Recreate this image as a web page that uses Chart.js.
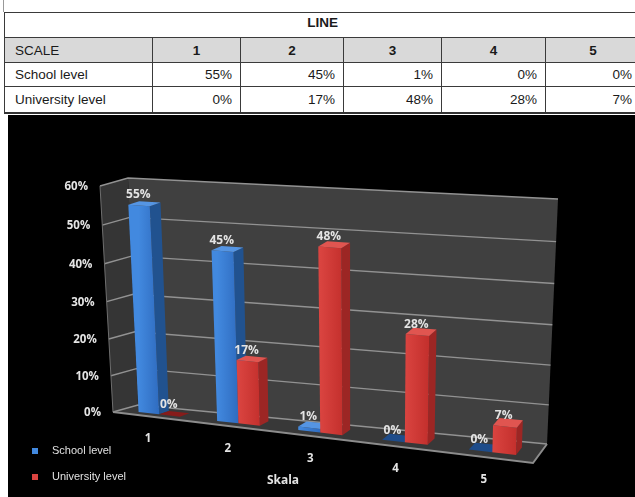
<!DOCTYPE html>
<html>
<head>
<meta charset="utf-8">
<script src="https://cdn.jsdelivr.net/npm/chart.js@4.4.1/dist/chart.umd.min.js"></script>
<style>
  body { margin: 0; width: 635px; height: 497px; background: #fff; position: relative; overflow: hidden; }
  #tick { position: absolute; left: 3px; top: 0; width: 1px; height: 12px; background: #999; }
  #tbl {
    position: absolute; left: 4px; top: 12px; width: 636px;
    border-collapse: collapse; table-layout: fixed;
    font-family: "Liberation Sans", Arial, sans-serif; font-size: 13.5px; color: #1a1a1a;
    border-bottom: 2px solid #333;
  }
  #tbl td { border: 1px solid #3a3a3a; padding: 0 8px 0 0; text-align: right; }
  #tbl td.lbl { text-align: left; padding-left: 10px; }
  #tbl tr.title td { text-align: center; font-weight: bold; height: 18px; padding: 0 0 6px 0; }
  #tbl tr.head td { background: #d9d9d9; font-weight: bold; text-align: center; height: 24px; padding: 0; }
  #tbl tr.head td.lbl { font-weight: normal; text-align: left; padding-left: 10px; }
  #tbl tr.r1 td { height: 23px; }
  #tbl tr.r2 td { height: 25px; }
  #panel { position: absolute; left: 8px; top: 115px; width: 627px; height: 382px; background: #000; }
</style>
</head>
<body>
<div id="tick"></div>
<table id="tbl"></table>
<div id="panel"><canvas id="chart" width="627" height="382"></canvas></div>
<script>
const categories = ['1', '2', '3', '4', '5'];
const schoolLevel = [55, 45, 1, 0, 0];
const universityLevel = [0, 17, 48, 28, 7];
const yTicks = [0, 10, 20, 30, 40, 50, 60];
const seriesNames = ['School level', 'University level'];
const tableTitle = 'LINE';
const scaleLabel = 'SCALE';
const axisTitle = 'Skala';

// --- table above the chart ---
function buildTable() {
  const tbl = document.getElementById('tbl');
  const widths = [148, 88, 103, 98, 104, 95];
  let html = '<colgroup>' + widths.map(w => `<col style="width:${w}px">`).join('') + '</colgroup>';
  html += `<tr class="title"><td colspan="6">${tableTitle}</td></tr>`;
  html += `<tr class="head"><td class="lbl">${scaleLabel}</td>` + categories.map(c => `<td>${c}</td>`).join('') + '</tr>';
  html += `<tr class="r1"><td class="lbl">${seriesNames[0]}</td>` + schoolLevel.map(v => `<td>${v}%</td>`).join('') + '</tr>';
  html += `<tr class="r2"><td class="lbl">${seriesNames[1]}</td>` + universityLevel.map(v => `<td>${v}%</td>`).join('') + '</tr>';
  tbl.innerHTML = html;
}
buildTable();

// --- perspective box: front plane (z=0) and back wall (z=1), corners BL, BR, TR, TL ---
const FRONT = [[105, 297], [525, 348], [533, 104], [92, 71]];
const BACK = [[130, 290], [539, 329], [550, 84], [120, 63]];

// unit square -> quad projective mapping
function squareToQuad(q) {
  const [x0, y0] = q[0], [x1, y1] = q[1], [x2, y2] = q[2], [x3, y3] = q[3];
  const dx1 = x1 - x2, dx2 = x3 - x2, dx3 = x0 - x1 + x2 - x3;
  const dy1 = y1 - y2, dy2 = y3 - y2, dy3 = y0 - y1 + y2 - y3;
  const den = dx1 * dy2 - dx2 * dy1;
  const g = (dx3 * dy2 - dx2 * dy3) / den;
  const h = (dx1 * dy3 - dx3 * dy1) / den;
  const a = x1 - x0 + g * x1, b = x3 - x0 + h * x3, c = x0;
  const d = y1 - y0 + g * y1, e = y3 - y0 + h * y3, f = y0;
  return (u, v) => {
    const w = g * u + h * v + 1;
    return [(a * u + b * v + c) / w, (d * u + e * v + f) / w];
  };
}
const frontMap = squareToQuad(FRONT);
const backMap = squareToQuad(BACK);

function P(u, v, z) {
  const f = frontMap(u, v), b = backMap(u, v);
  return [f[0] + (b[0] - f[0]) * z, f[1] + (b[1] - f[1]) * z];
}

function poly(ctx, pts, fill) {
  ctx.beginPath();
  ctx.moveTo(pts[0][0], pts[0][1]);
  for (let i = 1; i < pts.length; i++) ctx.lineTo(pts[i][0], pts[i][1]);
  ctx.closePath();
  ctx.fillStyle = fill;
  ctx.fill();
}

function line(ctx, pts, color, width) {
  ctx.beginPath();
  ctx.moveTo(pts[0][0], pts[0][1]);
  for (let i = 1; i < pts.length; i++) ctx.lineTo(pts[i][0], pts[i][1]);
  ctx.strokeStyle = color;
  ctx.lineWidth = width;
  ctx.stroke();
}

const faceColors = [
  { front: ['#4289df', '#2f6cc0'], side: '#21528f', top: '#5595e3', flat: '#1e4c8a' },
  { front: ['#da4440', '#c4302d'], side: '#9c2624', top: '#e05550', flat: '#861c1a' }
];
const BAR_Z0 = 0.3, BAR_Z1 = 0.7;

const box3d = {
  id: 'box3d',
  beforeDatasetsDraw(chart) {
    const ctx = chart.ctx;
    const area = chart.chartArea;
    const yScale = chart.scales.y, xScale = chart.scales.x;
    const toU = px => (px - area.left) / area.width;
    const toV = py => (area.bottom - py) / area.height;

    ctx.save();
    // walls and floor
    poly(ctx, [P(0, 0, 0), P(0, 1, 0), P(0, 1, 1), P(0, 0, 1)], '#353535');
    poly(ctx, [P(0, 0, 1), P(1, 0, 1), P(1, 1, 1), P(0, 1, 1)], '#404040');
    poly(ctx, [P(0, 0, 0), P(1, 0, 0), P(1, 0, 1), P(0, 0, 1)], '#383838');

    // gridlines on side wall and back wall
    yTicks.forEach(t => {
      const v = toV(yScale.getPixelForValue(t));
      line(ctx, [P(0, v, 0), P(0, v, 1), P(1, v, 1)], '#929292', 1.4);
    });
    line(ctx, [P(0, 0, 0), P(0, 1, 0)], '#6e6e6e', 1);
    // floor edge
    line(ctx, [P(0, 0, 0), P(1, 0, 0), P(1, 0, 1)], '#8c8c8c', 2);

    // bars, left to right
    const bars = [];
    categories.forEach((c, j) => {
      chart.data.datasets.forEach((ds, i) => {
        const el = chart.getDatasetMeta(i).data[j];
        bars.push({
          i, value: ds.data[j],
          u0: toU(el.x - el.width / 2), u1: toU(el.x + el.width / 2),
          v0: toV(el.base), v1: toV(el.y)
        });
      });
    });
    bars.forEach(b => {
      const col = faceColors[b.i];
      const z0 = BAR_Z0, z1 = BAR_Z1;
      if (b.v1 - b.v0 < 0.001) {
        poly(ctx, [P(b.u0, b.v1, z0), P(b.u1, b.v1, z0), P(b.u1, b.v1, z1), P(b.u0, b.v1, z1)], col.flat);
        return;
      }
      poly(ctx, [P(b.u1, b.v0, z0), P(b.u1, b.v0, z1), P(b.u1, b.v1, z1), P(b.u1, b.v1, z0)], col.side);
      const fl = P(b.u0, b.v0, z0), fr = P(b.u1, b.v0, z0);
      const grad = ctx.createLinearGradient(fl[0], 0, fr[0], 0);
      grad.addColorStop(0, col.front[0]);
      grad.addColorStop(1, col.front[1]);
      poly(ctx, [fl, fr, P(b.u1, b.v1, z0), P(b.u0, b.v1, z0)], grad);
      poly(ctx, [P(b.u0, b.v1, z0), P(b.u1, b.v1, z0), P(b.u1, b.v1, z1), P(b.u0, b.v1, z1)], col.top);
    });

    // value labels
    ctx.fillStyle = '#e4e4e4';
    ctx.font = 'bold 12px "Open Sans", sans-serif';
    ctx.textAlign = 'center';
    ctx.textBaseline = 'middle';
    bars.forEach(b => {
      const p = P((b.u0 + b.u1) / 2, b.v1, 0.35);
      ctx.fillText(b.value + '%', p[0] - 2, p[1] - 10);
    });

    // y axis labels
    ctx.font = 'bold 11.5px "Open Sans", sans-serif';
    ctx.textAlign = 'right';
    yTicks.forEach(t => {
      const p = P(0, toV(yScale.getPixelForValue(t)), 0);
      ctx.fillText(t + '%', p[0] - 12, p[1] + 1);
    });

    // category labels
    ctx.textAlign = 'center';
    categories.forEach((c, j) => {
      const p = P(toU(xScale.getPixelForValue(j)), 0, 0);
      ctx.fillText(c, p[0] - 4, p[1] + 22);
    });

    // axis title
    ctx.font = 'bold 12px "Open Sans", sans-serif';
    ctx.fillText(axisTitle, 275, 366);

    // legend
    ctx.textAlign = 'left';
    ctx.font = '11px "Liberation Sans", Arial, sans-serif';
    seriesNames.forEach((name, i) => {
      const y = 336 + i * 26;
      ctx.fillStyle = faceColors[i].front[0];
      ctx.fillRect(24, y - 3, 6, 6);
      ctx.fillStyle = '#e0e0e0';
      ctx.fillText(name, 44, y);
    });
    ctx.restore();
    return false;
  }
};

new Chart(document.getElementById('chart'), {
  type: 'bar',
  data: {
    labels: categories,
    datasets: [
      { label: seriesNames[0], data: schoolLevel, backgroundColor: faceColors[0].front[0] },
      { label: seriesNames[1], data: universityLevel, backgroundColor: faceColors[1].front[0] }
    ]
  },
  options: {
    responsive: false,
    animation: false,
    events: [],
    layout: { padding: 0 },
    categoryPercentage: 0.53,
    barPercentage: 1,
    plugins: { legend: { display: false }, tooltip: { enabled: false } },
    scales: {
      x: { display: false },
      y: { display: false, min: 0, max: 60, ticks: { stepSize: 10 } }
    }
  },
  plugins: [box3d]
});
</script>
</body>
</html>
